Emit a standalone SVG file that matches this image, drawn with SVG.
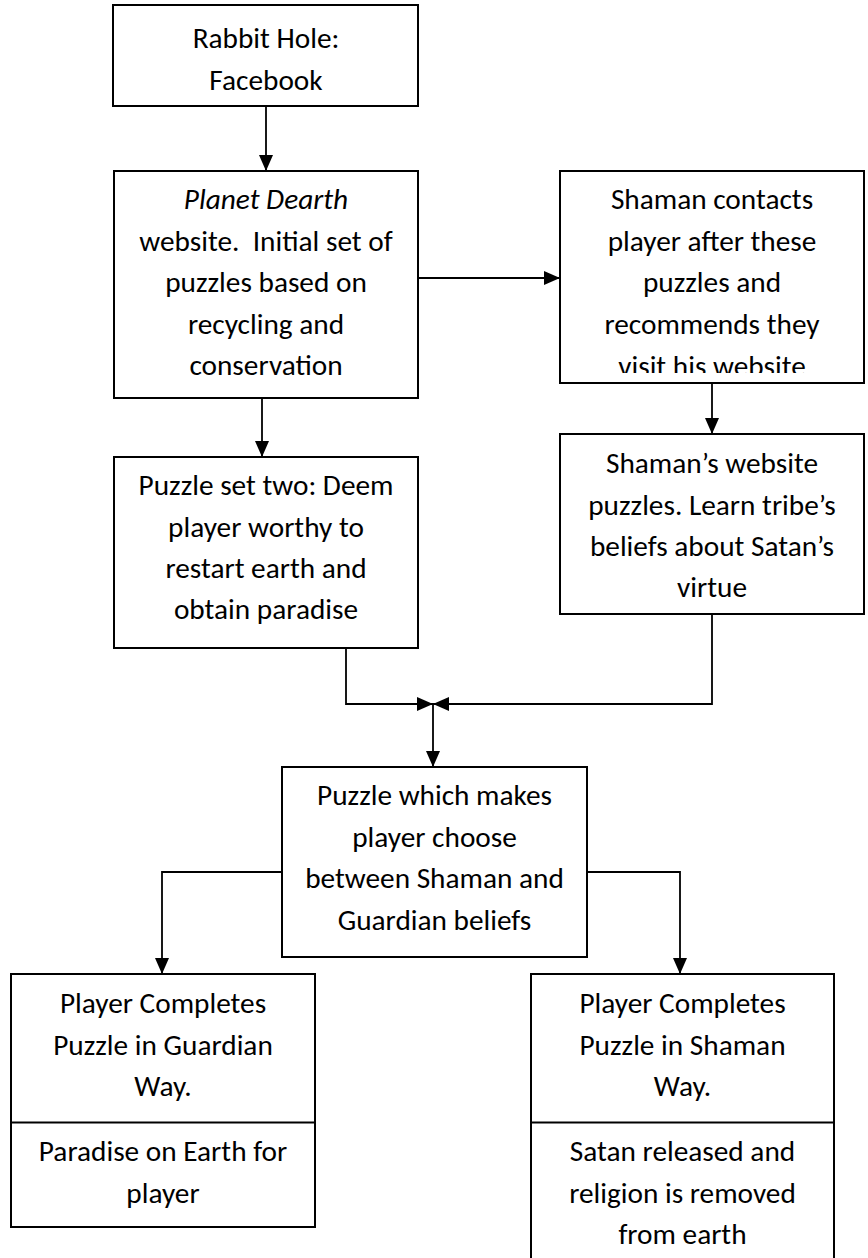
<svg xmlns="http://www.w3.org/2000/svg" width="868" height="1258" viewBox="0 0 868 1258">
<style>
.box{fill:#fff;stroke:#000;stroke-width:2}
.div{stroke:#000;stroke-width:2}
.t{font-family:Carlito,Lato,"Open Sans",sans-serif;font-size:29.3px;fill:#000;text-anchor:middle}
.i{font-style:italic}
.c{fill:none;stroke:#000;stroke-width:1.8}
</style>
<defs>
<marker id="ah" markerUnits="userSpaceOnUse" markerWidth="16" markerHeight="14" refX="16" refY="7" orient="auto">
<path d="M0,0 L16,7 L0,14 z" fill="#000"/>
</marker>
<clipPath id="clip3"><rect x="560" y="171" width="304" height="202"/></clipPath>
</defs>
<rect width="868" height="1258" fill="#fff"/>
<g id="connectors">
<path class="c" d="M266,106 V171" marker-end="url(#ah)"/>
<path class="c" d="M418,278 H560" marker-end="url(#ah)"/>
<path class="c" d="M262,398 V457" marker-end="url(#ah)"/>
<path class="c" d="M712,383 V434" marker-end="url(#ah)"/>
<path class="c" d="M346,648 V704 H433" marker-end="url(#ah)"/>
<path class="c" d="M712,614 V704 H433" marker-end="url(#ah)"/>
<path class="c" d="M433,704 V767" marker-end="url(#ah)"/>
<path class="c" d="M282,872 H162 V974" marker-end="url(#ah)"/>
<path class="c" d="M587,872 H680 V974" marker-end="url(#ah)"/>
</g>
<g id="rabbit-hole">
<rect class="box" x="113" y="5" width="305" height="101"/>
<text class="t" x="266" y="48">Rabbit Hole:</text>
<text class="t" x="266" y="89.5">Facebook</text>
</g>
<g id="planet-dearth">
<rect class="box" x="114" y="171" width="304" height="227"/>
<text class="t i" x="266" y="209">Planet Dearth</text>
<text class="t" x="266" y="250.5" xml:space="preserve">website.  Initial set of</text>
<text class="t" x="266" y="292">puzzles based on</text>
<text class="t" x="266" y="333.5">recycling and</text>
<text class="t" x="266" y="375">conservation</text>
</g>
<g id="shaman-contacts">
<rect class="box" x="560" y="171" width="304" height="212"/>
<g clip-path="url(#clip3)">
<text class="t" x="712" y="209">Shaman contacts</text>
<text class="t" x="712" y="250.5">player after these</text>
<text class="t" x="712" y="292">puzzles and</text>
<text class="t" x="712" y="333.5">recommends they</text>
<text class="t" x="712" y="376">visit his website</text>
</g>
</g>
<g id="shaman-website">
<rect class="box" x="560" y="434" width="304" height="180"/>
<text class="t" x="712" y="473">Shaman’s website</text>
<text class="t" x="712" y="514.5">puzzles. Learn tribe’s</text>
<text class="t" x="712" y="556">beliefs about Satan’s</text>
<text class="t" x="712" y="597">virtue</text>
</g>
<g id="puzzle-set-two">
<rect class="box" x="114" y="457" width="304" height="191"/>
<text class="t" x="266" y="495">Puzzle set two: Deem</text>
<text class="t" x="266" y="536.5">player worthy to</text>
<text class="t" x="266" y="578">restart earth and</text>
<text class="t" x="266" y="619">obtain paradise</text>
</g>
<g id="choose-puzzle">
<rect class="box" x="282" y="767" width="305" height="190"/>
<text class="t" x="434.5" y="805">Puzzle which makes</text>
<text class="t" x="434.5" y="846.5">player choose</text>
<text class="t" x="434.5" y="888">between Shaman and</text>
<text class="t" x="434.5" y="929.5">Guardian beliefs</text>
</g>
<g id="guardian-way">
<rect class="box" x="11" y="974" width="304" height="253"/>
<line class="div" x1="11" y1="1122.5" x2="315" y2="1122.5"/>
<text class="t" x="163" y="1013">Player Completes</text>
<text class="t" x="163" y="1054.5">Puzzle in Guardian</text>
<text class="t" x="163" y="1096">Way.</text>
<text class="t" x="163" y="1161">Paradise on Earth for</text>
<text class="t" x="163" y="1202.5">player</text>
</g>
<g id="shaman-way">
<path class="box" d="M531,1262 V974 H834 V1262" />
<line class="div" x1="531" y1="1122.5" x2="834" y2="1122.5"/>
<text class="t" x="682.5" y="1013">Player Completes</text>
<text class="t" x="682.5" y="1054.5">Puzzle in Shaman</text>
<text class="t" x="682.5" y="1096">Way.</text>
<text class="t" x="682.5" y="1161">Satan released and</text>
<text class="t" x="682.5" y="1202.5">religion is removed</text>
<text class="t" x="682.5" y="1244">from earth</text>
</g>
</svg>
